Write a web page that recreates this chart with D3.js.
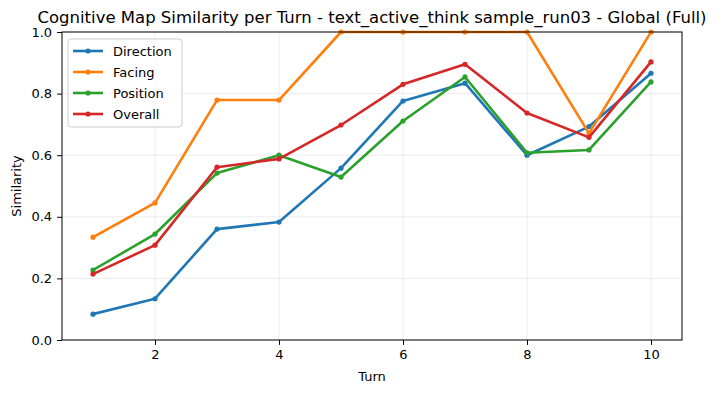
<!DOCTYPE html>
<html>
<head>
<meta charset="utf-8">
<script src="https://cdn.jsdelivr.net/npm/d3@7"></script>
<style>
  body { margin: 0; background: white; }
  text { font-family: "DejaVu Sans", sans-serif; }
</style>
</head>
<body>
<div id="container-div"></div>
<script>
// data
var turns = [1, 2, 3, 4, 5, 6, 7, 8, 9, 10];
var direction = [0.084, 0.134, 0.360, 0.383, 0.558, 0.776, 0.834, 0.600, 0.693, 0.866];
var facing    = [0.334, 0.445, 0.779, 0.779, 1.000, 1.000, 1.000, 1.000, 0.671, 1.000];
var position  = [0.227, 0.344, 0.542, 0.600, 0.529, 0.711, 0.854, 0.608, 0.617, 0.838];
var overall   = [0.214, 0.308, 0.561, 0.588, 0.698, 0.830, 0.895, 0.737, 0.658, 0.903];
var xTicks = [2, 4, 6, 8, 10];
var yTicks = [0, 0.2, 0.4, 0.6, 0.8, 1.0];

var series = [
    {name: "Direction", values: direction, color: "#1f77b4"},
    {name: "Facing", values: facing, color: "#ff7f0e"},
    {name: "Position", values: position, color: "#2ca02c"},
    {name: "Overall", values: overall, color: "#d62728"}
];

var W = 717, H = 393;
var mLeft = 62, mRight = 682, mTop = 32, mBottom = 340;

let viz = d3.select("#container-div").append("svg")
    .attr("width", W)
    .attr("height", H);

var x = d3.scaleLinear().domain([0.5, 10.5]).range([mLeft, mRight]);
var y = d3.scaleLinear().domain([0, 1]).range([mBottom, mTop]);

// grid
viz.append("g").selectAll("line").data(xTicks).enter().append("line")
    .attr("x1", d => x(d)).attr("x2", d => x(d))
    .attr("y1", mTop).attr("y2", mBottom)
    .attr("stroke", "#b0b0b0").attr("stroke-opacity", 0.3).attr("stroke-width", 0.8);
viz.append("g").selectAll("line").data(yTicks).enter().append("line")
    .attr("x1", mLeft).attr("x2", mRight)
    .attr("y1", d => y(d)).attr("y2", d => y(d))
    .attr("stroke", "#b0b0b0").attr("stroke-opacity", 0.3).attr("stroke-width", 0.8);

// lines
var line = d3.line().x((d, i) => x(turns[i])).y(d => y(d));

var groups = viz.selectAll("g.series").data(series).enter()
    .append("g")
    .attr("class", "series");

groups.append("path")
    .attr("d", d => line(d.values))
    .attr("fill", "none")
    .attr("stroke", d => d.color)
    .attr("stroke-width", 2.6)
    .attr("stroke-linejoin", "round")
    .attr("stroke-linecap", "square");

groups.each(function(s) {
    d3.select(this).selectAll("circle").data(s.values).enter().append("circle")
        .attr("cx", (d, i) => x(turns[i]))
        .attr("cy", d => y(d))
        .attr("r", 2.6)
        .attr("fill", s.color);
});

// axes frame
viz.append("rect")
    .attr("x", mLeft).attr("y", mTop)
    .attr("width", mRight - mLeft).attr("height", mBottom - mTop)
    .attr("fill", "none").attr("stroke", "black").attr("stroke-width", 1);

var xAxis = viz.append("g")
    .attr("transform", "translate(0," + mBottom + ")")
    .call(d3.axisBottom(x).tickValues(xTicks).tickSize(4.9).tickPadding(5).tickFormat(d3.format("d")));
var yAxis = viz.append("g")
    .attr("transform", "translate(" + mLeft + ",0)")
    .call(d3.axisLeft(y).tickValues(yTicks).tickSize(4.9).tickPadding(5).tickFormat(d3.format(".1f")));

[xAxis, yAxis].forEach(function(a) {
    a.select(".domain").remove();
    a.selectAll("text").attr("font-size", 13).attr("font-family", "DejaVu Sans").attr("fill", "black");
    a.selectAll("line").attr("stroke", "black").attr("stroke-width", 1);
});

// labels
viz.append("text")
    .attr("x", (mLeft + mRight) / 2).attr("y", 23)
    .attr("text-anchor", "middle")
    .attr("font-size", 16.5)
    .text("Cognitive Map Similarity per Turn - text_active_think sample_run03 - Global (Full)");

viz.append("text")
    .attr("x", (mLeft + mRight) / 2).attr("y", 381)
    .attr("text-anchor", "middle")
    .attr("font-size", 13)
    .text("Turn");

viz.append("text")
    .attr("transform", "translate(21," + ((mTop + mBottom) / 2) + ") rotate(-90)")
    .attr("text-anchor", "middle")
    .attr("font-size", 13)
    .text("Similarity");

// legend
var legend = viz.append("g");
legend.append("rect")
    .attr("x", 68).attr("y", 39)
    .attr("width", 114).attr("height", 88)
    .attr("rx", 3)
    .attr("fill", "white").attr("fill-opacity", 0.8)
    .attr("stroke", "#cccccc").attr("stroke-width", 1);

var items = legend.selectAll("g").data(series).enter().append("g")
    .attr("transform", (d, i) => "translate(0," + (51 + i * 21) + ")");
items.append("line")
    .attr("x1", 73).attr("x2", 103)
    .attr("stroke", d => d.color).attr("stroke-width", 2.6);
items.append("circle")
    .attr("cx", 88).attr("r", 2.6)
    .attr("fill", d => d.color);
items.append("text")
    .attr("x", 113).attr("y", 4.5)
    .attr("font-size", 13)
    .text(d => d.name);
</script>
</body>
</html>
